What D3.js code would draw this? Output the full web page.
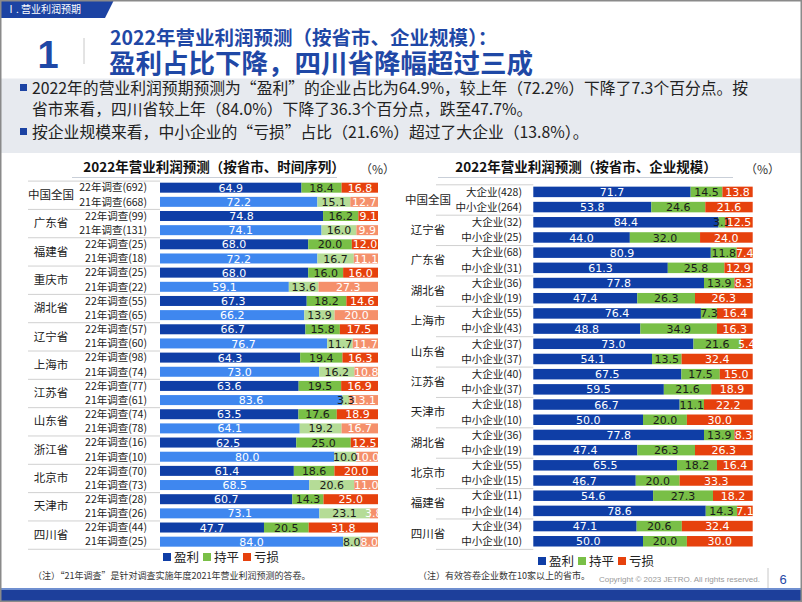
<!DOCTYPE html>
<html><head><meta charset="utf-8">
<script src="https://cdn.jsdelivr.net/npm/d3@7"></script>
<style>
html,body{margin:0;padding:0;background:#fff;}
svg{display:block;}
</style></head>
<body>
<svg id="chart" width="802" height="602"></svg>
<script>
// ---------------- DATA ----------------
const seriesNames = ["盈利", "持平", "亏损"];

// Left chart: by province, time series
const regionsL = ["中国全国","广东省","福建省","重庆市","湖北省","辽宁省","上海市","江苏省","山东省","浙江省","北京市","天津市","四川省"];
const rowLabelsL = ["22年调查(692)","21年调查(668)","22年调查(99)","21年调查(131)","22年调查(25)","21年调查(18)",
  "22年调查(25)","21年调查(22)","22年调查(55)","21年调查(65)","22年调查(57)","21年调查(60)",
  "22年调查(98)","21年调查(74)","22年调查(77)","21年调查(61)","22年调查(74)","21年调查(78)",
  "22年调查(16)","21年调查(10)","22年调查(70)","21年调查(73)","22年调查(28)","21年调查(26)",
  "22年调查(44)","21年调查(25)"];
const profitL = [64.9,72.2,74.8,74.1,68.0,72.2,68.0,59.1,67.3,66.2,66.7,76.7,64.3,73.0,63.6,83.6,63.5,64.1,62.5,80.0,61.4,68.5,60.7,73.1,47.7,84.0];
const flatL   = [18.4,15.1,16.2,16.0,20.0,16.7,16.0,13.6,18.2,13.9,15.8,11.7,19.4,16.2,19.5,3.3,17.6,19.2,25.0,10.0,18.6,20.6,14.3,23.1,20.5,8.0];
const lossL   = [16.8,12.7,9.1,9.9,12.0,11.1,16.0,27.3,14.6,20.0,17.5,11.7,16.3,10.8,16.9,13.1,18.9,16.7,12.5,10.0,20.0,11.0,25.0,3.8,31.8,8.0];

// Right chart: by province, enterprise size
const regionsR = ["中国全国","辽宁省","广东省","湖北省","上海市","山东省","江苏省","天津市","湖北省","北京市","福建省","四川省"];
const rowLabelsR = ["大企业(428)","中小企业(264)","大企业(32)","中小企业(25)","大企业(68)","中小企业(31)",
  "大企业(36)","中小企业(19)","大企业(55)","中小企业(43)","大企业(37)","中小企业(37)",
  "大企业(40)","中小企业(37)","大企业(18)","中小企业(10)","大企业(36)","中小企业(19)",
  "大企业(55)","中小企业(15)","大企业(11)","中小企业(14)","大企业(34)","中小企业(10)"];
const profitR = [71.7,53.8,84.4,44.0,80.9,61.3,77.8,47.4,76.4,48.8,73.0,54.1,67.5,59.5,66.7,50.0,77.8,47.4,65.5,46.7,54.6,78.6,47.1,50.0];
const flatR   = [14.5,24.6,3.1,32.0,11.8,25.8,13.9,26.3,7.3,34.9,21.6,13.5,17.5,21.6,11.1,20.0,13.9,26.3,18.2,20.0,27.3,14.3,20.6,20.0];
const lossR   = [13.8,21.6,12.5,24.0,7.4,12.9,8.3,26.3,16.4,16.3,5.4,32.4,15.0,18.9,22.2,30.0,8.3,26.3,16.4,33.3,18.2,7.1,32.4,30.0];

// ---------------- STYLE ----------------
const CJK = "'Noto Sans CJK SC','Noto Sans',sans-serif";
const NUM = "'DejaVu Sans',Verdana,sans-serif";
const dark = ["#0f3ea6", "#79bf47", "#e6410d"];
const light = ["#3f87ef", "#b5dc97", "#f5906b"];
const labelFill = ["#ffffff", "#1a1a1a", "#ffffff"];
const TITLEBLUE = "#1f48a6";

const svg = d3.select("#chart");

svg.append("rect").attr("x",0).attr("y",0).attr("width",802).attr("height",602).attr("fill","#fff");

// header tab
svg.append("path").attr("d","M0,0 L114,0 L105,18 L0,18 Z").attr("fill","#1c43a3");
svg.append("text").attr("x",6).attr("y",13).attr("font-family",CJK).attr("font-size",10)
  .attr("fill","#fff").text("Ⅰ. 营业利润预期");

// title
svg.append("text").attr("x",48).attr("y",68).attr("text-anchor","middle").attr("font-family","'Liberation Sans',Arial,sans-serif")
  .attr("font-size",38).attr("font-weight","bold").attr("fill",TITLEBLUE).text("1");
svg.append("line").attr("x1",84).attr("x2",84).attr("y1",38).attr("y2",64).attr("stroke","#c8c8c8").attr("stroke-width",1);
svg.append("text").attr("x",110).attr("y",45).attr("font-family",CJK).attr("font-size",19.5).attr("font-weight","bold")
  .attr("fill",TITLEBLUE).text("2022年营业利润预测（按省市、企业规模）：");
svg.append("text").attr("x",109).attr("y",72.5).attr("font-family",CJK).attr("font-size",26.5).attr("font-weight","bold")
  .attr("fill",TITLEBLUE).text("盈利占比下降，四川省降幅超过三成");

// summary box
svg.append("rect").attr("x",0).attr("y",78.5).attr("width",802).attr("height",74.5).attr("fill","#e7eaef");
const bullets = [
  {y:94, sq:true, t:"2022年的营业利润预期预测为“盈利”的企业占比为64.9%，较上年（72.2%）下降了7.3个百分点。按"},
  {y:115, sq:false, t:"省市来看，四川省较上年（84.0%）下降了36.3个百分点，跌至47.7%。"},
  {y:138, sq:true, t:"按企业规模来看，中小企业的“亏损”占比（21.6%）超过了大企业（13.8%）。"}
];
bullets.forEach(b=>{
  if(b.sq) svg.append("rect").attr("x",20).attr("y",b.y-10).attr("width",7).attr("height",7).attr("fill","#1c43a3");
  svg.append("text").attr("x",32).attr("y",b.y).attr("font-family",CJK).attr("font-size",15.8).attr("fill","#222").text(b.t);
});

// ---------------- CHART BUILDER ----------------
function buildChart(cfg){
  const {regions,rowLabels,vals,x0,x1,y0,step,barH,regionX,labelRight,sepX,colorsFor,title,titleX,ulX0,ulX1,pctX} = cfg;
  const n = rowLabels.length;
  const g = svg.append("g");
  const x = d3.scaleLinear().domain([0,100]).range([x0,x1]);
  const pad = 1 - barH/step;
  const y = d3.scaleBand().domain(d3.range(n)).range([y0, y0+step*n]).paddingInner(pad).paddingOuter(pad/2);

  g.append("text").attr("x",titleX).attr("y",172).attr("text-anchor","middle").attr("font-family",CJK)
    .attr("font-size",13.5).attr("font-weight","bold").attr("fill","#111").text(title);
  g.append("line").attr("x1",ulX0).attr("x2",ulX1).attr("y1",177.5).attr("y2",177.5).attr("stroke","#c9cfd8").attr("stroke-width",1);
  g.append("text").attr("x",pctX).attr("y",174).attr("font-family",CJK).attr("font-size",12).attr("fill","#333").text("（%）");

  const seps = d3.range(regions.length+1);
  g.selectAll("line.sep").data(seps).join("line").attr("class","sep")
    .attr("x1",sepX).attr("x2",x0).attr("y1",d=>y0+d*2*step+0.5).attr("y2",d=>y0+d*2*step+0.5)
    .attr("stroke","#d0d0d0").attr("stroke-width",1);

  g.selectAll("text.reg").data(regions).join("text").attr("class","reg")
    .attr("x",regionX).attr("y",(d,i)=>y0+(i*2+1)*step).attr("dy","0.36em").attr("text-anchor","middle")
    .attr("font-family",CJK).attr("font-size",11.5).attr("fill","#222").text(d=>d);

  g.selectAll("text.row").data(rowLabels).join("text").attr("class","row")
    .attr("x",labelRight).attr("y",(d,i)=>y(i)+y.bandwidth()/2).attr("dy","0.36em").attr("text-anchor","end")
    .attr("font-family",CJK).attr("font-size",10.5).attr("fill","#222").text(d=>d);

  const rows = d3.range(n).map(i=>({i, v:[vals[0][i],vals[1][i],vals[2][i]]}));
  const segs = [];
  rows.forEach(r=>{
    let acc=0;
    r.v.forEach((v,k)=>{ segs.push({i:r.i,k,v,start:acc}); acc+=v; });
  });
  const clampEnd = s => Math.min(s.start+s.v,100);
  g.selectAll("rect.seg").data(segs).join("rect").attr("class","seg")
    .attr("x",d=>x(d.start)).attr("width",d=>Math.max(0,x(clampEnd(d))-x(d.start)))
    .attr("y",d=>y(d.i)).attr("height",y.bandwidth())
    .attr("fill",d=>colorsFor(d.i)[d.k]);
  g.selectAll("text.val").data(segs).join("text").attr("class","val")
    .attr("x",d=>x(d.start+d.v/2)).attr("y",d=>y(d.i)+y.bandwidth()/2).attr("dy","0.37em")
    .attr("text-anchor","middle").attr("font-family",NUM).attr("font-size",11)
    .attr("fill",d=>labelFill[d.k]).text(d=>d.v.toFixed(1));
  return g;
}

buildChart({
  regions:regionsL, rowLabels:rowLabelsL, vals:[profitL,flatL,lossL],
  x0:160, x1:378, y0:180.6, step:14.16, barH:10,
  regionX:51, labelRight:147, sepX:28,
  colorsFor:i=> i%2===0 ? dark : light,
  title:"2022年营业利润预测（按省市、时间序列）", titleX:214, ulX0:72, ulX1:337, pctX:360
});
buildChart({
  regions:regionsR, rowLabels:rowLabelsR, vals:[profitR,flatR,lossR],
  x0:533.3, x1:752.7, y0:184.3, step:15.19, barH:10.5,
  regionX:428, labelRight:522, sepX:436,
  colorsFor:()=>dark,
  title:"2022年营业利润预测（按省市、企业规模）", titleX:586, ulX0:438, ulX1:733, pctX:745
});

// legends
function legend(x, y, gap){
  const lg = svg.append("g").attr("transform",`translate(${x},${y})`);
  const it = lg.selectAll("g").data(seriesNames).join("g").attr("transform",(d,i)=>`translate(${i*gap},0)`);
  it.append("rect").attr("x",0).attr("y",-4).attr("width",8).attr("height",8).attr("fill",(d,i)=>dark[i]);
  it.append("text").attr("x",11).attr("y",0).attr("dy","0.36em").attr("font-family",CJK).attr("font-size",12.5)
    .attr("fill","#222").text(d=>d);
}
legend(163, 557, 40);
legend(538, 561, 40);

// notes
svg.append("text").attr("x",33).attr("y",579).attr("font-family",CJK).attr("font-size",9).attr("fill","#333")
  .text("（注）“21年调查”是针对调查实施年度2021年营业利润预测的答卷。");
svg.append("text").attr("x",418).attr("y",579).attr("font-family",CJK).attr("font-size",9).attr("fill","#333")
  .text("（注）有效答卷企业数在10家以上的省市。");
svg.append("text").attr("x",760).attr("y",582).attr("text-anchor","end").attr("font-family","'Liberation Sans',Arial,sans-serif")
  .attr("font-size",8).attr("fill","#9a9a9a").text("Copyright © 2023 JETRO. All rights reserved.");
svg.append("line").attr("x1",768).attr("x2",768).attr("y1",568).attr("y2",588).attr("stroke","#c8c8c8");
svg.append("text").attr("x",783).attr("y",584).attr("text-anchor","middle").attr("font-family","'Liberation Sans',Arial,sans-serif")
  .attr("font-size",13).attr("fill",TITLEBLUE).text("6");

// bottom band
svg.append("rect").attr("x",0).attr("y",590).attr("width",802).attr("height",12).attr("fill","#1d3f9b");
svg.append("rect").attr("x",0).attr("y",588).attr("width",802).attr("height",2).attr("fill","#6f8fd0");

// frame
svg.append("rect").attr("x",0.75).attr("y",0.75).attr("width",800.5).attr("height",600.5).attr("fill","none")
  .attr("stroke","#8a8a8a").attr("stroke-width",1.5);
</script>
</body></html>
